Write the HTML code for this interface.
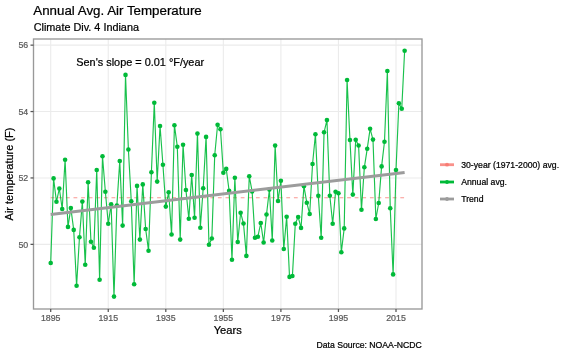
<!DOCTYPE html>
<html><head><meta charset="utf-8">
<style>
html,body{margin:0;padding:0;background:#fff;}
svg{display:block;will-change:transform;}
text{font-family:"Liberation Sans", sans-serif;stroke:currentColor;stroke-width:0.22px;}
</style></head>
<body>
<svg width="570" height="356" viewBox="0 0 570 356">
<rect x="0" y="0" width="570" height="356" fill="#fff"/>
<g stroke="#EBEBEB" stroke-width="1.1" fill="none">
<line x1="50.70" y1="39.0" x2="50.70" y2="309.0"/>
<line x1="108.25" y1="39.0" x2="108.25" y2="309.0"/>
<line x1="165.80" y1="39.0" x2="165.80" y2="309.0"/>
<line x1="223.35" y1="39.0" x2="223.35" y2="309.0"/>
<line x1="280.90" y1="39.0" x2="280.90" y2="309.0"/>
<line x1="338.45" y1="39.0" x2="338.45" y2="309.0"/>
<line x1="396.00" y1="39.0" x2="396.00" y2="309.0"/>
<line x1="33.5" y1="244.35" x2="422.0" y2="244.35"/>
<line x1="33.5" y1="177.95" x2="422.0" y2="177.95"/>
<line x1="33.5" y1="111.55" x2="422.0" y2="111.55"/>
<line x1="33.5" y1="45.15" x2="422.0" y2="45.15"/>
</g>
<line x1="50.70" y1="197.7" x2="404.63" y2="197.7" stroke="#F8766D" stroke-width="1.15" stroke-dasharray="3.8,3.8" opacity="0.75"/>
<path d="M50.70,263.00 L53.58,178.40 L56.46,201.80 L59.33,188.50 L62.21,209.00 L65.09,159.70 L67.97,226.90 L70.84,208.10 L73.72,229.90 L76.60,285.70 L79.47,237.20 L82.35,201.60 L85.23,264.80 L88.11,182.20 L90.98,241.80 L93.86,247.80 L96.74,170.00 L99.62,279.70 L102.50,156.30 L105.37,191.70 L108.25,223.80 L111.13,204.30 L114.00,296.60 L116.88,205.50 L119.76,161.00 L122.64,225.60 L125.52,74.90 L128.39,149.50 L131.27,201.30 L134.15,284.20 L137.03,185.90 L139.90,239.60 L142.78,184.40 L145.66,229.00 L148.53,250.70 L151.41,172.20 L154.29,102.70 L157.17,181.60 L160.05,126.00 L162.92,164.70 L165.80,206.60 L168.68,192.20 L171.56,234.50 L174.43,125.20 L177.31,146.70 L180.19,239.60 L183.06,144.70 L185.94,190.00 L188.82,218.80 L191.70,175.00 L194.57,217.80 L197.45,133.60 L200.33,227.70 L203.21,188.20 L206.08,136.90 L208.96,244.70 L211.84,238.50 L214.72,155.20 L217.60,124.70 L220.47,129.20 L223.35,172.70 L226.23,168.90 L229.11,190.80 L231.98,259.70 L234.86,177.70 L237.74,242.00 L240.62,212.70 L243.49,223.50 L246.37,255.90 L249.25,176.20 L252.12,191.40 L255.00,237.70 L257.88,236.70 L260.76,223.00 L263.63,242.50 L266.51,214.50 L269.39,189.60 L272.27,240.50 L275.14,145.60 L278.02,201.00 L280.90,180.70 L283.78,249.00 L286.65,216.70 L289.53,276.90 L292.41,276.00 L295.29,223.80 L298.17,217.00 L301.04,227.90 L303.92,186.20 L306.80,202.70 L309.68,214.00 L312.55,164.00 L315.43,134.30 L318.31,195.80 L321.19,237.70 L324.06,132.30 L326.94,120.10 L329.82,195.80 L332.69,223.80 L335.57,191.80 L338.45,193.30 L341.33,252.20 L344.20,228.40 L347.08,80.00 L349.96,140.00 L352.84,194.60 L355.71,139.80 L358.59,145.50 L361.47,209.80 L364.35,167.30 L367.22,148.80 L370.10,128.80 L372.98,139.60 L375.86,219.00 L378.73,203.00 L381.61,166.40 L384.49,141.80 L387.37,71.00 L390.25,208.20 L393.12,274.40 L396.00,170.00 L398.88,103.20 L401.75,108.80 L404.63,50.70" fill="none" stroke="#00BA38" stroke-width="1.15" stroke-linejoin="round" opacity="0.9"/>
<g fill="#00BA38">
<circle cx="50.70" cy="263.00" r="2.3"/>
<circle cx="53.58" cy="178.40" r="2.3"/>
<circle cx="56.46" cy="201.80" r="2.3"/>
<circle cx="59.33" cy="188.50" r="2.3"/>
<circle cx="62.21" cy="209.00" r="2.3"/>
<circle cx="65.09" cy="159.70" r="2.3"/>
<circle cx="67.97" cy="226.90" r="2.3"/>
<circle cx="70.84" cy="208.10" r="2.3"/>
<circle cx="73.72" cy="229.90" r="2.3"/>
<circle cx="76.60" cy="285.70" r="2.3"/>
<circle cx="79.47" cy="237.20" r="2.3"/>
<circle cx="82.35" cy="201.60" r="2.3"/>
<circle cx="85.23" cy="264.80" r="2.3"/>
<circle cx="88.11" cy="182.20" r="2.3"/>
<circle cx="90.98" cy="241.80" r="2.3"/>
<circle cx="93.86" cy="247.80" r="2.3"/>
<circle cx="96.74" cy="170.00" r="2.3"/>
<circle cx="99.62" cy="279.70" r="2.3"/>
<circle cx="102.50" cy="156.30" r="2.3"/>
<circle cx="105.37" cy="191.70" r="2.3"/>
<circle cx="108.25" cy="223.80" r="2.3"/>
<circle cx="111.13" cy="204.30" r="2.3"/>
<circle cx="114.00" cy="296.60" r="2.3"/>
<circle cx="116.88" cy="205.50" r="2.3"/>
<circle cx="119.76" cy="161.00" r="2.3"/>
<circle cx="122.64" cy="225.60" r="2.3"/>
<circle cx="125.52" cy="74.90" r="2.3"/>
<circle cx="128.39" cy="149.50" r="2.3"/>
<circle cx="131.27" cy="201.30" r="2.3"/>
<circle cx="134.15" cy="284.20" r="2.3"/>
<circle cx="137.03" cy="185.90" r="2.3"/>
<circle cx="139.90" cy="239.60" r="2.3"/>
<circle cx="142.78" cy="184.40" r="2.3"/>
<circle cx="145.66" cy="229.00" r="2.3"/>
<circle cx="148.53" cy="250.70" r="2.3"/>
<circle cx="151.41" cy="172.20" r="2.3"/>
<circle cx="154.29" cy="102.70" r="2.3"/>
<circle cx="157.17" cy="181.60" r="2.3"/>
<circle cx="160.05" cy="126.00" r="2.3"/>
<circle cx="162.92" cy="164.70" r="2.3"/>
<circle cx="165.80" cy="206.60" r="2.3"/>
<circle cx="168.68" cy="192.20" r="2.3"/>
<circle cx="171.56" cy="234.50" r="2.3"/>
<circle cx="174.43" cy="125.20" r="2.3"/>
<circle cx="177.31" cy="146.70" r="2.3"/>
<circle cx="180.19" cy="239.60" r="2.3"/>
<circle cx="183.06" cy="144.70" r="2.3"/>
<circle cx="185.94" cy="190.00" r="2.3"/>
<circle cx="188.82" cy="218.80" r="2.3"/>
<circle cx="191.70" cy="175.00" r="2.3"/>
<circle cx="194.57" cy="217.80" r="2.3"/>
<circle cx="197.45" cy="133.60" r="2.3"/>
<circle cx="200.33" cy="227.70" r="2.3"/>
<circle cx="203.21" cy="188.20" r="2.3"/>
<circle cx="206.08" cy="136.90" r="2.3"/>
<circle cx="208.96" cy="244.70" r="2.3"/>
<circle cx="211.84" cy="238.50" r="2.3"/>
<circle cx="214.72" cy="155.20" r="2.3"/>
<circle cx="217.60" cy="124.70" r="2.3"/>
<circle cx="220.47" cy="129.20" r="2.3"/>
<circle cx="223.35" cy="172.70" r="2.3"/>
<circle cx="226.23" cy="168.90" r="2.3"/>
<circle cx="229.11" cy="190.80" r="2.3"/>
<circle cx="231.98" cy="259.70" r="2.3"/>
<circle cx="234.86" cy="177.70" r="2.3"/>
<circle cx="237.74" cy="242.00" r="2.3"/>
<circle cx="240.62" cy="212.70" r="2.3"/>
<circle cx="243.49" cy="223.50" r="2.3"/>
<circle cx="246.37" cy="255.90" r="2.3"/>
<circle cx="249.25" cy="176.20" r="2.3"/>
<circle cx="252.12" cy="191.40" r="2.3"/>
<circle cx="255.00" cy="237.70" r="2.3"/>
<circle cx="257.88" cy="236.70" r="2.3"/>
<circle cx="260.76" cy="223.00" r="2.3"/>
<circle cx="263.63" cy="242.50" r="2.3"/>
<circle cx="266.51" cy="214.50" r="2.3"/>
<circle cx="269.39" cy="189.60" r="2.3"/>
<circle cx="272.27" cy="240.50" r="2.3"/>
<circle cx="275.14" cy="145.60" r="2.3"/>
<circle cx="278.02" cy="201.00" r="2.3"/>
<circle cx="280.90" cy="180.70" r="2.3"/>
<circle cx="283.78" cy="249.00" r="2.3"/>
<circle cx="286.65" cy="216.70" r="2.3"/>
<circle cx="289.53" cy="276.90" r="2.3"/>
<circle cx="292.41" cy="276.00" r="2.3"/>
<circle cx="295.29" cy="223.80" r="2.3"/>
<circle cx="298.17" cy="217.00" r="2.3"/>
<circle cx="301.04" cy="227.90" r="2.3"/>
<circle cx="303.92" cy="186.20" r="2.3"/>
<circle cx="306.80" cy="202.70" r="2.3"/>
<circle cx="309.68" cy="214.00" r="2.3"/>
<circle cx="312.55" cy="164.00" r="2.3"/>
<circle cx="315.43" cy="134.30" r="2.3"/>
<circle cx="318.31" cy="195.80" r="2.3"/>
<circle cx="321.19" cy="237.70" r="2.3"/>
<circle cx="324.06" cy="132.30" r="2.3"/>
<circle cx="326.94" cy="120.10" r="2.3"/>
<circle cx="329.82" cy="195.80" r="2.3"/>
<circle cx="332.69" cy="223.80" r="2.3"/>
<circle cx="335.57" cy="191.80" r="2.3"/>
<circle cx="338.45" cy="193.30" r="2.3"/>
<circle cx="341.33" cy="252.20" r="2.3"/>
<circle cx="344.20" cy="228.40" r="2.3"/>
<circle cx="347.08" cy="80.00" r="2.3"/>
<circle cx="349.96" cy="140.00" r="2.3"/>
<circle cx="352.84" cy="194.60" r="2.3"/>
<circle cx="355.71" cy="139.80" r="2.3"/>
<circle cx="358.59" cy="145.50" r="2.3"/>
<circle cx="361.47" cy="209.80" r="2.3"/>
<circle cx="364.35" cy="167.30" r="2.3"/>
<circle cx="367.22" cy="148.80" r="2.3"/>
<circle cx="370.10" cy="128.80" r="2.3"/>
<circle cx="372.98" cy="139.60" r="2.3"/>
<circle cx="375.86" cy="219.00" r="2.3"/>
<circle cx="378.73" cy="203.00" r="2.3"/>
<circle cx="381.61" cy="166.40" r="2.3"/>
<circle cx="384.49" cy="141.80" r="2.3"/>
<circle cx="387.37" cy="71.00" r="2.3"/>
<circle cx="390.25" cy="208.20" r="2.3"/>
<circle cx="393.12" cy="274.40" r="2.3"/>
<circle cx="396.00" cy="170.00" r="2.3"/>
<circle cx="398.88" cy="103.20" r="2.3"/>
<circle cx="401.75" cy="108.80" r="2.3"/>
<circle cx="404.63" cy="50.70" r="2.3"/>
</g>
<line x1="50.70" y1="214.4" x2="404.63" y2="172.4" stroke="#9C9C9C" stroke-width="3.0"/>
<rect x="33.5" y="39.0" width="388.5" height="270.0" fill="none" stroke="#999999" stroke-width="1.35"/>
<g stroke="#555555" stroke-width="1.25">
<line x1="50.70" y1="309.0" x2="50.70" y2="312.0"/>
<line x1="108.25" y1="309.0" x2="108.25" y2="312.0"/>
<line x1="165.80" y1="309.0" x2="165.80" y2="312.0"/>
<line x1="223.35" y1="309.0" x2="223.35" y2="312.0"/>
<line x1="280.90" y1="309.0" x2="280.90" y2="312.0"/>
<line x1="338.45" y1="309.0" x2="338.45" y2="312.0"/>
<line x1="396.00" y1="309.0" x2="396.00" y2="312.0"/>
<line x1="30.5" y1="244.35" x2="33.5" y2="244.35"/>
<line x1="30.5" y1="177.95" x2="33.5" y2="177.95"/>
<line x1="30.5" y1="111.55" x2="33.5" y2="111.55"/>
<line x1="30.5" y1="45.15" x2="33.5" y2="45.15"/>
</g>
<g font-size="8.8" fill="#5A5A5A" color="#5A5A5A" style="stroke-width:0.1px">
<text x="50.70" y="320.6" text-anchor="middle">1895</text>
<text x="108.25" y="320.6" text-anchor="middle">1915</text>
<text x="165.80" y="320.6" text-anchor="middle">1935</text>
<text x="223.35" y="320.6" text-anchor="middle">1955</text>
<text x="280.90" y="320.6" text-anchor="middle">1975</text>
<text x="338.45" y="320.6" text-anchor="middle">1995</text>
<text x="396.00" y="320.6" text-anchor="middle">2015</text>
<text x="28.2" y="247.50" text-anchor="end">50</text>
<text x="28.2" y="181.10" text-anchor="end">52</text>
<text x="28.2" y="114.70" text-anchor="end">54</text>
<text x="28.2" y="48.30" text-anchor="end">56</text>
</g>
<text x="33.3" y="14.7" font-size="13.33" fill="#000">Annual Avg. Air Temperature</text>
<text x="33.7" y="30.7" font-size="10.85" fill="#000">Climate Div. 4 Indiana</text>
<text x="76.3" y="65.5" font-size="10.9" fill="#000">Sen's slope = 0.01 °F/year</text>
<text x="227.7" y="333.9" font-size="11.15" fill="#000" text-anchor="middle">Years</text>
<text transform="translate(13.1,174) rotate(-90)" font-size="11.0" fill="#000" text-anchor="middle">Air temperature (F)</text>
<text x="421.8" y="348.2" font-size="8.66" fill="#000" text-anchor="end">Data Source: NOAA-NCDC</text>
<g stroke-width="2.8">
<line x1="440" y1="164.7" x2="454" y2="164.7" stroke="#F8766D" opacity="0.8"/>
<line x1="440" y1="182" x2="454" y2="182" stroke="#00BA38"/>
<line x1="440" y1="199" x2="454" y2="199" stroke="#9C9C9C"/>
</g>
<circle cx="447" cy="164.7" r="1.9" fill="#F8766D" opacity="0.8"/>
<circle cx="447" cy="182" r="1.9" fill="#00BA38"/>
<circle cx="447" cy="199" r="1.9" fill="#9C9C9C"/>
<g font-size="8.68" fill="#000">
<text x="461.2" y="168.1">30-year (1971-2000) avg.</text>
<text x="461.2" y="185.1">Annual avg.</text>
<text x="461.2" y="202.1">Trend</text>
</g>
</svg>
</body></html>
